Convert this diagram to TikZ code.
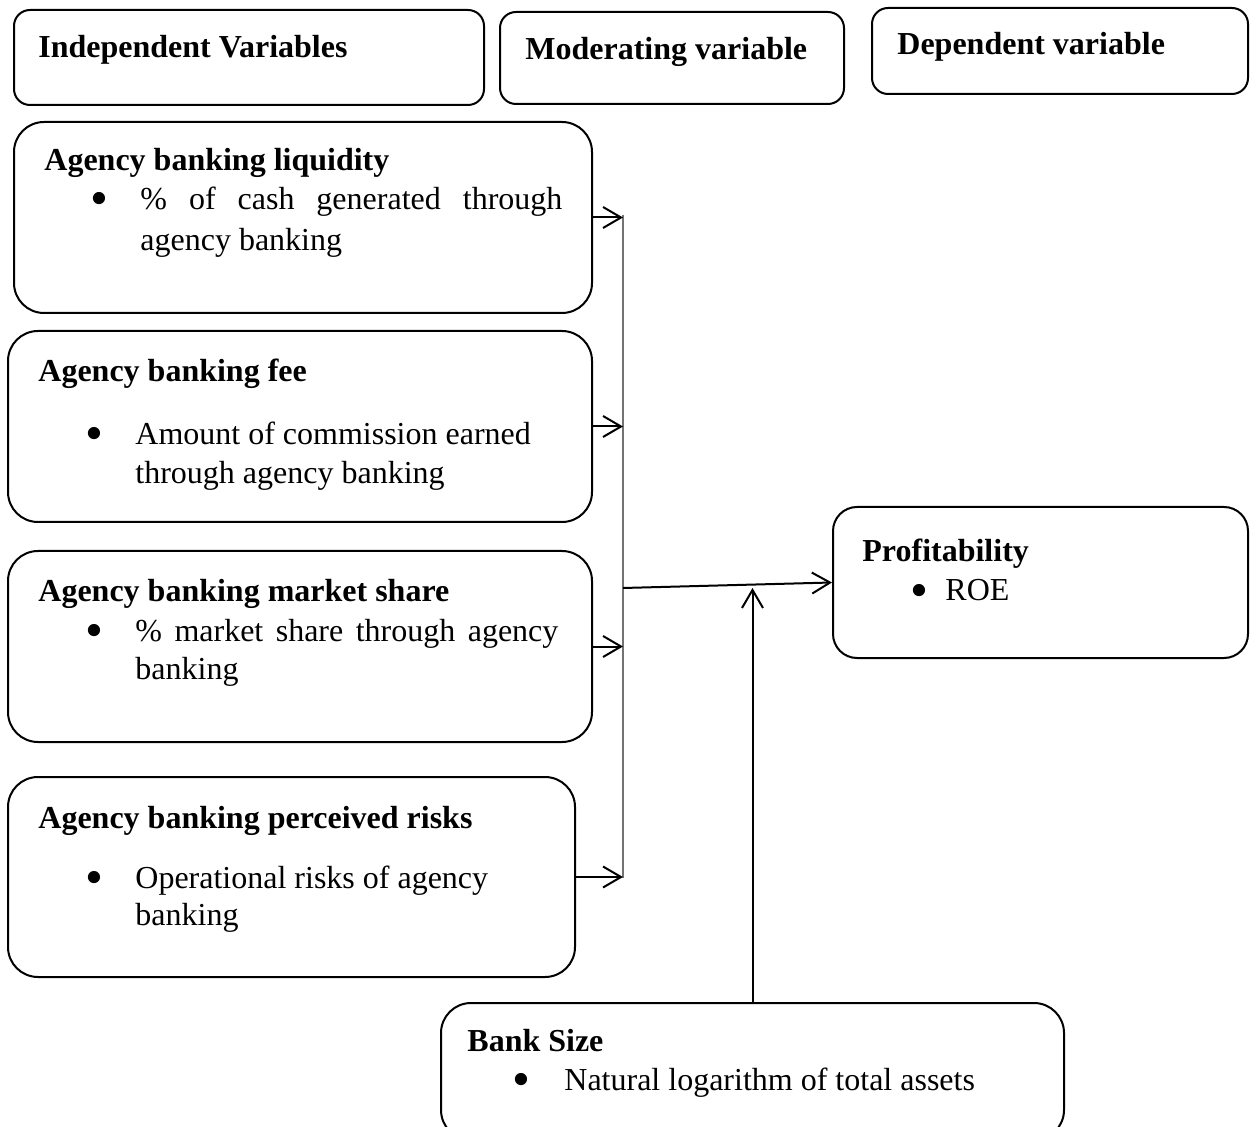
\documentclass[tikz,border=0pt]{standalone}
\usepackage{fontspec}
\setmainfont{Liberation Serif}
\usetikzlibrary{arrows.meta}

\begin{document}
\begin{tikzpicture}[x=0.5pt,y=-0.5pt,
    caja/.style={draw,line width=1pt,rounded corners=15pt,inner sep=0pt},
    encab/.style={draw,line width=1pt,rounded corners=8pt,inner sep=0pt},
    titulo/.style={anchor=base west,inner sep=0pt,yshift=-1pt,font=\fontsize{16}{20}\selectfont\bfseries},
    texto/.style={anchor=base west,inner sep=0pt,yshift=-1pt,font=\fontsize{16}{20}\selectfont},
    punto/.style={texto,
      execute at begin node={\raisebox{-3pt}{\scalebox{1.6}{\textbullet}}}},
    flecha/.style={line width=1pt,-{Straight Barb[length=9pt,width=10.5pt]}},
    bus/.style={line width=1pt,black!55}]
        % Paso 1: Fija el marco del dibujo
        \clip (0,0) rectangle (1257,1127);

        % Paso 2: Cajas de encabezado
        \node[encab,minimum width=235pt,minimum height=47.5pt] (hIndep) at (249,57.5) {};
        \node[encab,minimum width=172pt,minimum height=46pt] (hMod) at (672,58) {};
        \node[encab,minimum width=188pt,minimum height=43pt] (hDep) at (1060,51) {};
        \node[titulo] (tIndep) at (38,56) {Independent Variables};
        \node[titulo] (tMod) at (525,58) {Moderating variable};
        \node[titulo] (tDep) at (897,53) {Dependent variable};

        % Paso 3: Variables independientes
        \node[caja,minimum width=289pt,minimum height=95.5pt] (liq) at (303,217.5) {};
        \node[titulo] (tLiq) at (44,169) {Agency banking liquidity};
        \node[punto] (bLiq) at (90,208) {};
        \node[texto] (liq1) at (140,208) {\makebox[211pt][s]{\% of cash generated through}};
        \node[texto] (liq2) at (140,249) {agency banking};

        \node[caja,minimum width=292pt,minimum height=95.5pt] (fee) at (300,426.5) {};
        \node[titulo] (tFee) at (38,380) {Agency banking fee};
        \node[punto] (bFee) at (85,443) {};
        \node[texto] (fee1) at (135,443) {Amount of commission earned};
        \node[texto] (fee2) at (135,482) {through agency banking};

        \node[caja,minimum width=292pt,minimum height=95.5pt] (mkt) at (300,646.5) {};
        \node[titulo] (tMkt) at (38,600) {Agency banking market share};
        \node[punto] (bMkt) at (85,639) {};
        \node[texto] (mkt1) at (135,639) {\makebox[211.5pt][s]{\% market share through agency}};
        \node[texto] (mkt2) at (135,677) {banking};

        \node[caja,minimum width=283.5pt,minimum height=100pt] (risk) at (291.5,877) {};
        \node[titulo] (tRisk) at (38,826) {Agency banking perceived risks};
        \node[punto] (bRisk) at (85,886) {};
        \node[texto] (risk1) at (135,886) {Operational risks of agency};
        \node[texto] (risk2) at (135,923) {banking};

        % Paso 4: Variable dependiente y moderadora
        \node[caja,minimum width=207.5pt,minimum height=75.5pt,rounded corners=12pt] (prof) at (1040.5,582.5) {};
        \node[titulo] (tProf) at (862,560) {Profitability};
        \node[punto] (bProf) at (910,599) {};
        \node[texto] (roe) at (945,599) {ROE};

        \node[caja,minimum width=311.5pt,minimum height=68.5pt] (size) at (752.5,1071.5) {};
        \node[titulo] (tSize) at (467,1049) {Bank Size};
        \node[punto] (bSize) at (512,1088) {};
        \node[texto] (size1) at (564,1088) {Natural logarithm of total assets};

        % Paso 5: Dibuja el bus y las flechas
        \coordinate (busTop) at (623,215);
        \coordinate (busBot) at (623,878);
        \coordinate (join) at (623,588);
        \draw[bus] (busTop) -- (busBot);
        \draw[flecha] (liq.east) -- (liq.east -| busTop);
        \draw[flecha] (fee.east) -- (fee.east -| busTop);
        \draw[flecha] (mkt.east) -- (mkt.east -| busTop);
        \draw[flecha] (risk.east) -- (risk.east -| busTop);
        \draw[flecha] (join) -- (prof.west);
        \draw[flecha] (size.north) -- (size.north |- join);
\end{tikzpicture}
\end{document}
